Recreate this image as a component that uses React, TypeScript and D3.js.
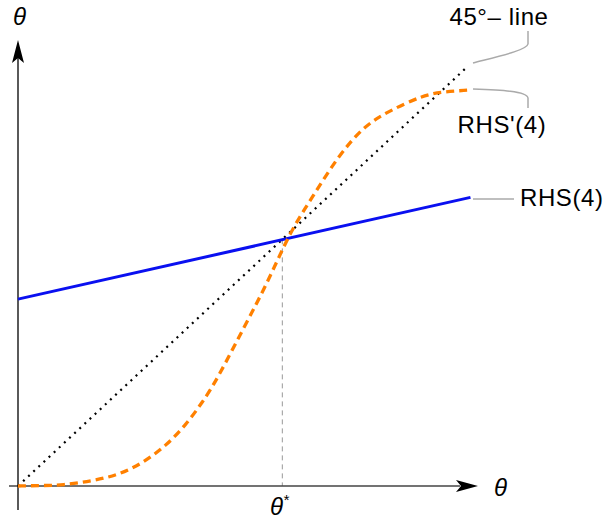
import React from "react";
import * as d3 from "d3";

const W = 608;
const H = 519;

// 45° line
const diagX = [0, 1];
// RHS(4): straight line
const rhsX = [0, 1.01];
const rhsIntercept = 0.447;
const rhsSlope = 0.241;
// RHS'(4): S-shaped curve
const sX = [0, 0.05, 0.1, 0.165, 0.223, 0.279, 0.33, 0.373, 0.411, 0.444, 0.507, 0.558, 0.607, 0.656, 0.712, 0.77, 0.824, 0.904, 0.949, 1.004];
const sY = [0, 0.001, 0.002, 0.012, 0.026, 0.055, 0.096, 0.144, 0.199, 0.254, 0.385, 0.488, 0.608, 0.689, 0.785, 0.859, 0.895, 0.935, 0.943, 0.947];
const thetaStar = 0.59;

const labels = { axis: "θ", star: "θ", diag: "45°– line", rhsPrime: "RHS'(4)", rhs: "RHS(4)" };

export default function App() {
  const x = d3.scaleLinear().domain([0, 1]).range([18, 466]);
  const y = d3.scaleLinear().domain([0, 1]).range([486, 68]);
  const line = d3.line<[number, number]>().x((d) => x(d[0])).y((d) => y(d[1]));
  const curve = d3
    .line<[number, number]>()
    .x((d) => x(d[0]))
    .y((d) => y(d[1]))
    .curve(d3.curveBasis);

  const diag: [number, number][] = diagX.map((v) => [v, v]);
  const rhs: [number, number][] = rhsX.map((v) => [v, rhsIntercept + rhsSlope * v]);
  const s: [number, number][] = sX.map((v, i) => [v, sY[i]]);

  const x0 = x(0);
  const y0 = y(0);
  const font = "Liberation Sans, Arial, sans-serif";

  return (
    <svg width={W} height={H} style={{ position: "absolute", left: 0, top: 0 }} fontFamily={font}>
      <rect width={W} height={H} fill="white" />
      {/* theta* guide */}
      <line x1={x(thetaStar)} x2={x(thetaStar)} y1={y(thetaStar)} y2={y0} stroke="#999" strokeWidth={1} strokeDasharray="5,4" />
      {/* axes */}
      <line x1={9} x2={460} y1={y0} y2={y0} stroke="#444" strokeWidth={1.3} />
      <path d={`M478,${y0} L456,${y0 - 6} L461,${y0} L456,${y0 + 6} Z`} fill="black" />
      <line x1={x0} x2={x0} y1={510} y2={58} stroke="black" strokeWidth={1.3} />
      <path d={`M${x0},40 L${x0 - 6},63 L${x0},58 L${x0 + 6},63 Z`} fill="black" />
      {/* curves */}
      <path d={line(diag) || ""} fill="none" stroke="black" strokeWidth={2.2} strokeDasharray="2,5" />
      <path d={line(rhs) || ""} fill="none" stroke="#0a10f0" strokeWidth={3} />
      <path d={curve(s) || ""} fill="none" stroke="#ff8000" strokeWidth={3.3} strokeDasharray="8,5" />
      {/* callouts */}
      <path d="M473,63 C500,56 527,50 528,44 L528,31" fill="none" stroke="#aaa" strokeWidth={1.5} />
      <path d="M473,89 C500,90 527,91 528,98 L528,108" fill="none" stroke="#aaa" strokeWidth={1.5} />
      <line x1={473} x2={514} y1={199} y2={199} stroke="#aaa" strokeWidth={1.5} />
      {/* text */}
      <g fontSize={24} letterSpacing={0.6}>
        <text x={499} y={25} textAnchor="middle">{labels.diag}</text>
        <text x={502} y={133} textAnchor="middle">{labels.rhsPrime}</text>
        <text x={520} y={206}>{labels.rhs}</text>
      </g>
      <text x={19.5} y={25} fontSize={24} fontStyle="italic" textAnchor="middle">{labels.axis}</text>
      <text x={494} y={496} fontSize={24} fontStyle="italic">{labels.axis}</text>
      <text x={x(thetaStar) - 3} y={515} fontSize={24} fontStyle="italic" textAnchor="middle">
        {labels.star}
        <tspan fontSize={15} dy={-10}>*</tspan>
      </text>
    </svg>
  );
}
